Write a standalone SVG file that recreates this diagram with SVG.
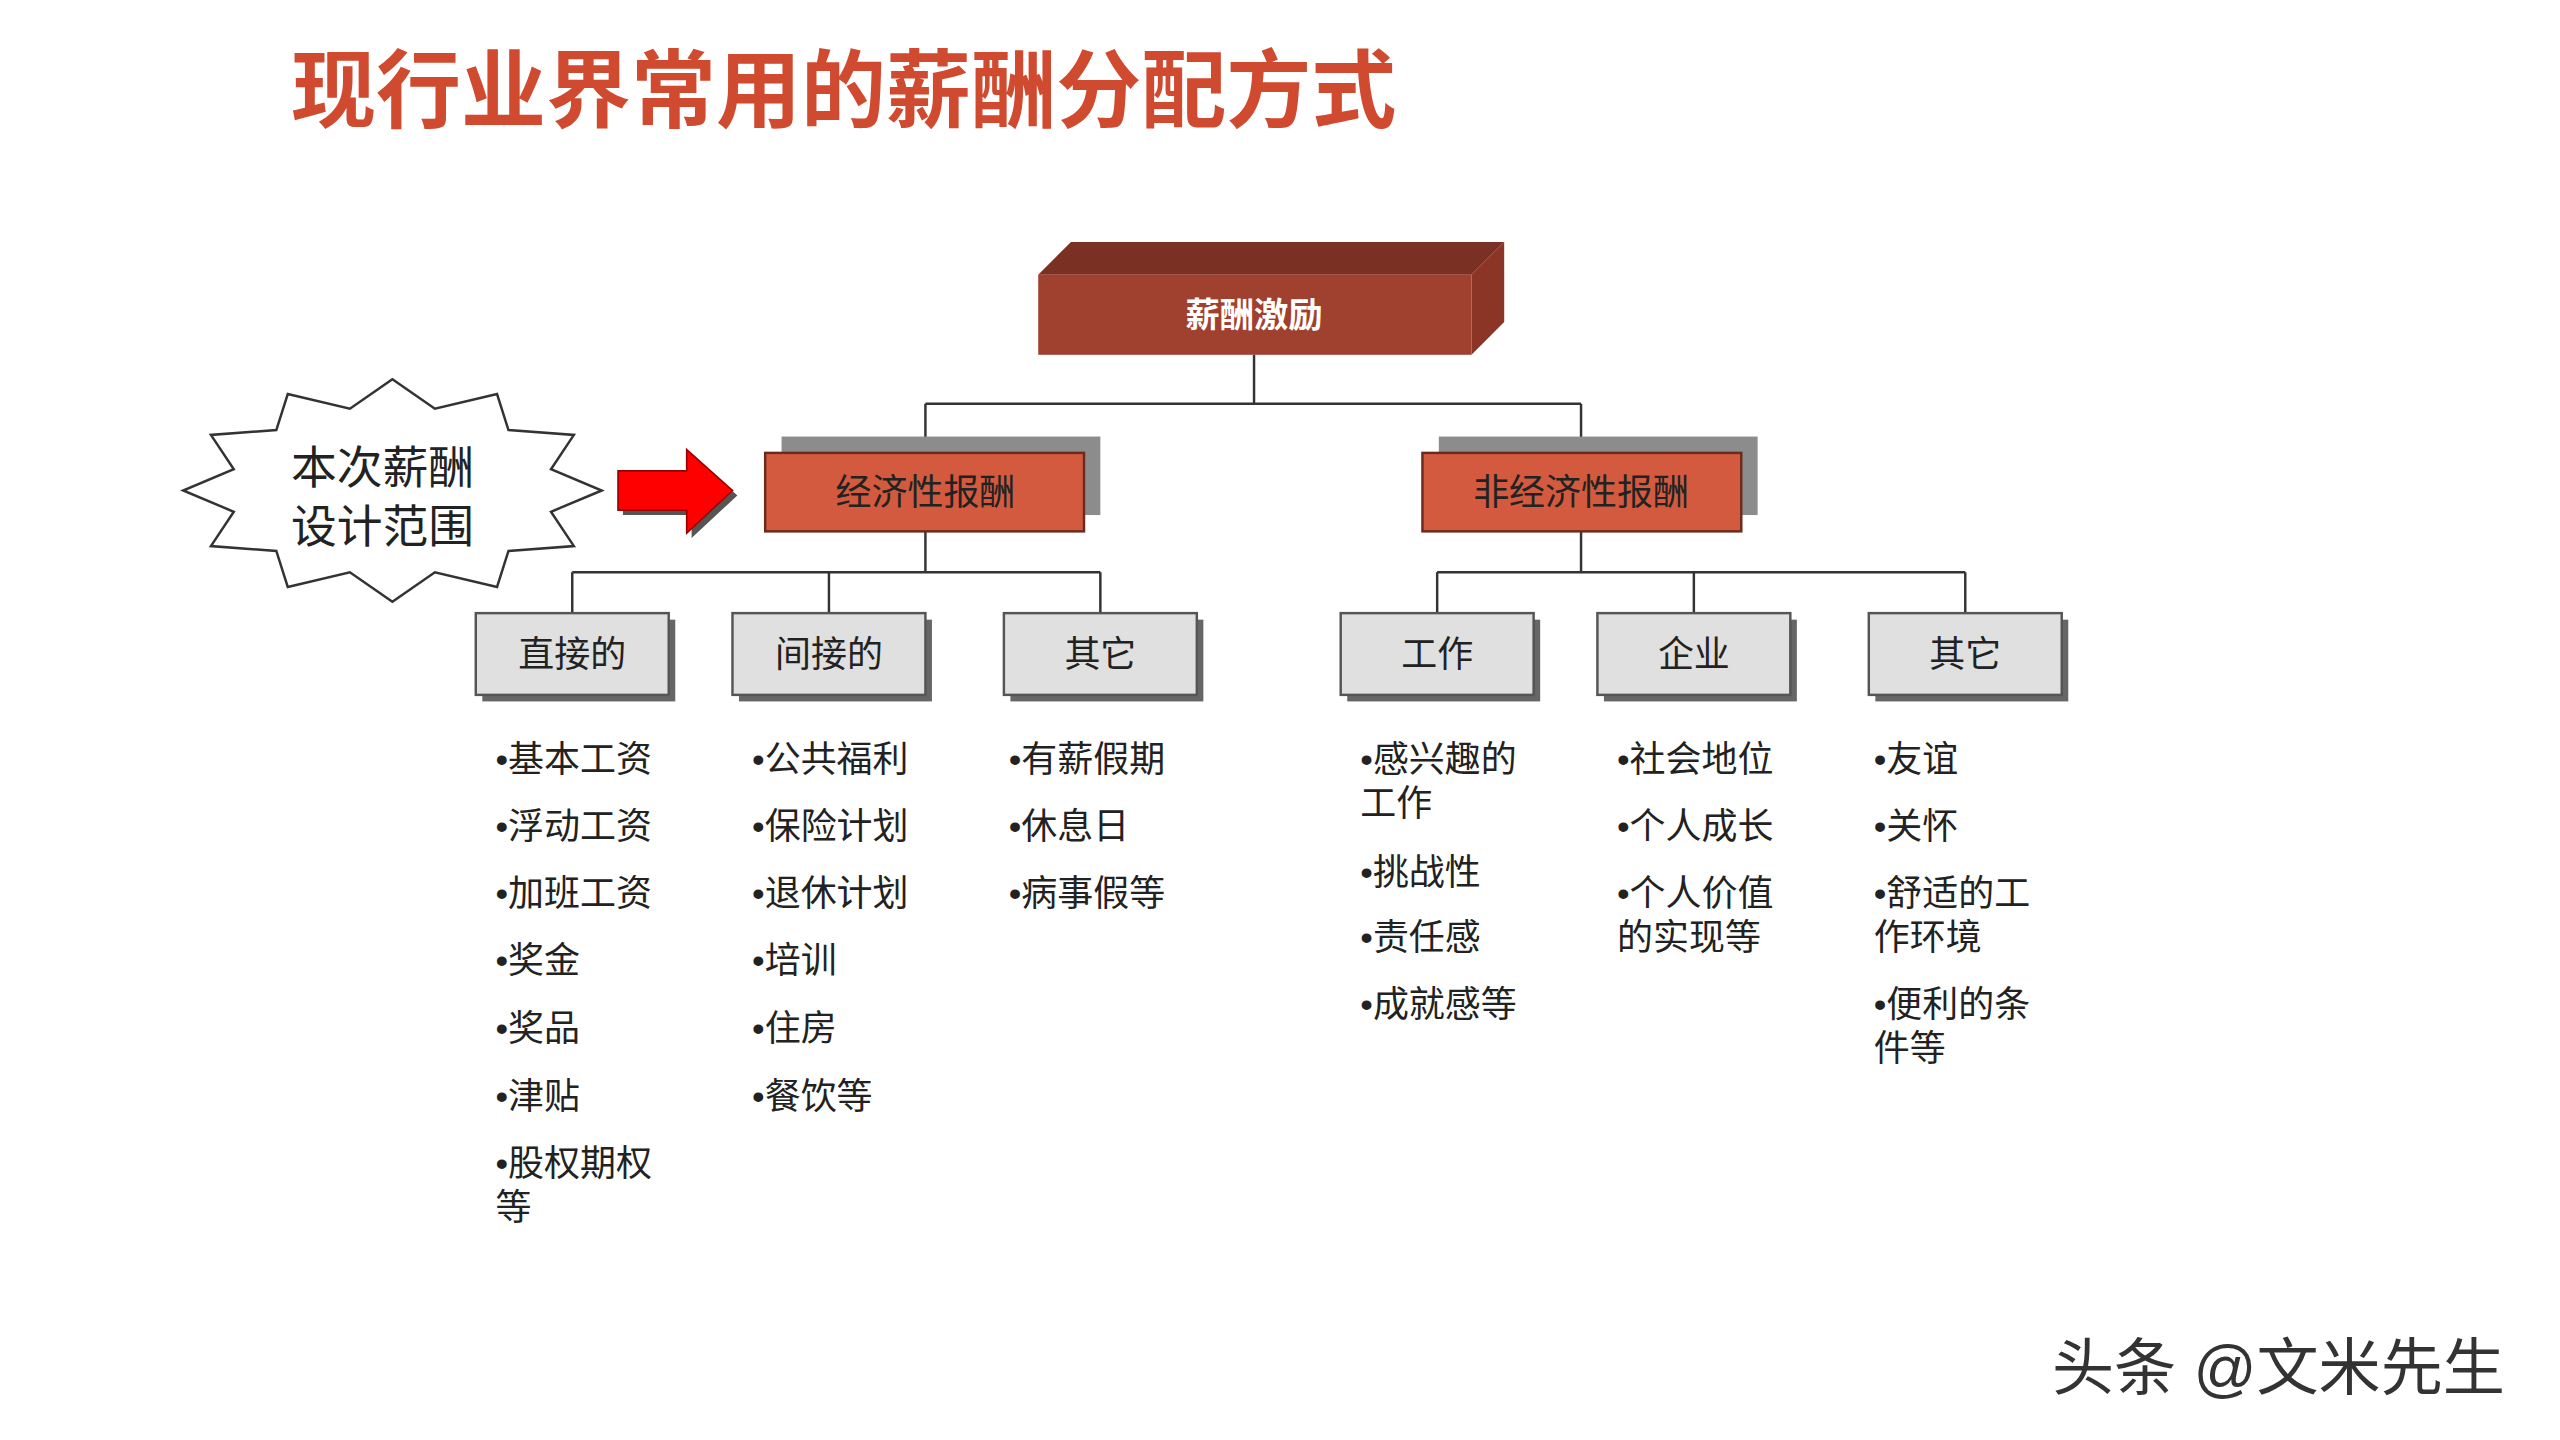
<svg xmlns="http://www.w3.org/2000/svg" width="2560" height="1440" viewBox="0 0 2560 1440">
<style>
.t{font-family:"Liberation Sans","Noto Sans CJK SC",sans-serif}
.b{font-size:22px;fill:#222}
.l3{fill:#e0e0e0;stroke:#555;stroke-width:1.5}
.sh{fill:#666}
.l2{fill:#d35a3e;stroke:#6a2a1c;stroke-width:1.5}
.l2s{fill:#8c8c8c}
.c{fill:none;stroke:#333;stroke-width:1.5}
</style>
<rect width="2560" height="1440" fill="#fff"/>
<g transform="scale(1.635)">
<text class="t" x="178" y="74" font-size="52" font-weight="bold" fill="#d04a30">现行业界常用的薪酬分配方式</text>
<g id="connectors">
<path class="c" d="M767,217V247M566,247H967M566,247V277M967,247V277M566,325V350M350,350H673M350,350V375M507,350V375M673,350V375M967,325V350M879,350H1202M879,350V375M1036,350V375M1202,350V375"/>
</g>
<g id="root">
<polygon points="635,168 655,148 920,148 900,168" fill="#7a3022"/>
<polygon points="900,168 920,148 920,197 900,217" fill="#8a3526"/>
<rect x="635" y="168" width="265" height="49" fill="#a0402e"/>
<text class="t" x="767" y="200" font-size="21" font-weight="bold" fill="#fff" text-anchor="middle">薪酬激励</text>
</g>
<g id="econ">
<rect class="l2s" x="478" y="267" width="195" height="48"/>
<rect class="l2" x="468" y="277" width="195" height="48"/>
<text class="t" x="566" y="309" font-size="22" fill="#222" text-anchor="middle">经济性报酬</text>
</g>
<g id="nonecon">
<rect class="l2s" x="880" y="267" width="195" height="48"/>
<rect class="l2" x="870" y="277" width="195" height="48"/>
<text class="t" x="967" y="309" font-size="22" fill="#222" text-anchor="middle">非经济性报酬</text>
</g>
<g id="n1"><rect class="sh" x="295" y="379" width="118" height="50"/><rect class="l3" x="291" y="375" width="118" height="50"/><text class="t" x="350" y="408" font-size="22" fill="#222" text-anchor="middle">直接的</text></g>
<g id="n2"><rect class="sh" x="452" y="379" width="118" height="50"/><rect class="l3" x="448" y="375" width="118" height="50"/><text class="t" x="507" y="408" font-size="22" fill="#222" text-anchor="middle">间接的</text></g>
<g id="n3"><rect class="sh" x="618" y="379" width="118" height="50"/><rect class="l3" x="614" y="375" width="118" height="50"/><text class="t" x="673" y="408" font-size="22" fill="#222" text-anchor="middle">其它</text></g>
<g id="n4"><rect class="sh" x="824" y="379" width="118" height="50"/><rect class="l3" x="820" y="375" width="118" height="50"/><text class="t" x="879" y="408" font-size="22" fill="#222" text-anchor="middle">工作</text></g>
<g id="n5"><rect class="sh" x="981" y="379" width="118" height="50"/><rect class="l3" x="977" y="375" width="118" height="50"/><text class="t" x="1036" y="408" font-size="22" fill="#222" text-anchor="middle">企业</text></g>
<g id="n6"><rect class="sh" x="1147" y="379" width="118" height="50"/><rect class="l3" x="1143" y="375" width="118" height="50"/><text class="t" x="1202" y="408" font-size="22" fill="#222" text-anchor="middle">其它</text></g>
<g id="lists" class="t b">
<text x="303" y="472">•基本工资</text><text x="303" y="513">•浮动工资</text><text x="303" y="554">•加班工资</text><text x="303" y="595">•奖金</text><text x="303" y="637">•奖品</text><text x="303" y="678">•津贴</text><text x="303" y="719">•股权期权</text><text x="303" y="746">等</text>
<text x="460" y="472">•公共福利</text><text x="460" y="513">•保险计划</text><text x="460" y="554">•退休计划</text><text x="460" y="595">•培训</text><text x="460" y="637">•住房</text><text x="460" y="678">•餐饮等</text>
<text x="617" y="472">•有薪假期</text><text x="617" y="513">•休息日</text><text x="617" y="554">•病事假等</text>
<text x="832" y="472">•感兴趣的</text><text x="832" y="499">工作</text><text x="832" y="541">•挑战性</text><text x="832" y="581">•责任感</text><text x="832" y="622">•成就感等</text>
<text x="989" y="472">•社会地位</text><text x="989" y="513">•个人成长</text><text x="989" y="554">•个人价值</text><text x="989" y="581">的实现等</text>
<text x="1146" y="472">•友谊</text><text x="1146" y="513">•关怀</text><text x="1146" y="554">•舒适的工</text><text x="1146" y="581">作环境</text><text x="1146" y="622">•便利的条</text><text x="1146" y="649">件等</text>
</g>
<g id="burst">
<polygon fill="#fff" stroke="#333" stroke-width="1.5" points="368,300 337,313 351,334 311,337 304,359 266,350 240,368 214,350 176,359 169,337 129,334 143,313 112,300 143,287 129,266 169,263 176,241 214,250 240,232 266,250 304,241 311,263 351,266 337,287"/>
<text class="t" x="178" y="296" font-size="28" fill="#222">本次薪酬</text>
<text class="t" x="178" y="332" font-size="28" fill="#222">设计范围</text>
</g>
<g id="arrow">
<polygon points="381,291 423,291 423,278 451,303 423,329 423,315 381,315" fill="#555"/>
<polygon points="378,288 420,288 420,275 448,300 420,326 420,312 378,312" fill="#ff0000" stroke="#900" stroke-width="1"/>
</g>
<text class="t" x="1255" y="850" font-size="38" fill="#333">头条 @文米先生</text>
</g>
</svg>
